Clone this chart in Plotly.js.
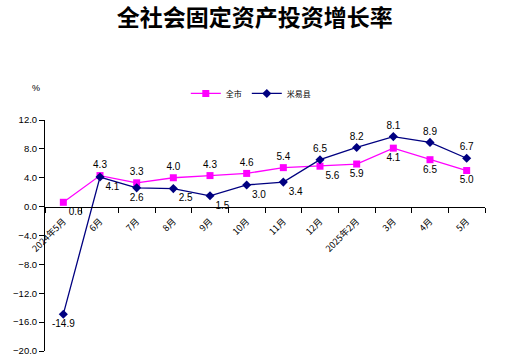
<!DOCTYPE html>
<html>
<head>
<meta charset="utf-8">
<script src="https://cdn.plot.ly/plotly-3.0.1.min.js"></script>
<style>html,body{margin:0;padding:0;background:#fff;}#chart{width:520px;height:364px;}</style>
</head>
<body>
<div id="chart"></div>
<script>
// Categories (x-axis tick labels)
const months = ["2024年5月","6月","7月","8月","9月","10月","11月","12月","2025年2月","3月","4月","5月"];
// Series values
const cityValues   = [0.6, 4.3, 3.3, 4.0, 4.3, 4.6, 5.4, 5.6, 5.9, 8.1, 6.5, 5.0];
const countyValues = [-14.9, 4.1, 2.6, 2.5, 1.5, 3.0, 3.4, 6.5, 8.2, 9.7, 8.9, 6.7];
// Data labels as printed on the original chart
const cityLabels   = ["0.6","4.3","3.3","4.0","4.3","4.6","5.4","5.6","5.9","4.1","6.5","5.0"];
const countyLabels = ["-14.9","4.1","2.6","2.5","1.5","3.0","3.4","6.5","8.2","8.1","8.9","6.7"];
// Series names
const seriesNames = ["全市","米易县"];

const cityPos = ["bottom right","top center","top center","top center","top center","top center","top center",
                 "bottom right","bottom center","bottom center","bottom center","bottom center"];
const countyPos = ["bottom center","bottom right","bottom center","bottom right","bottom right","bottom right","bottom right",
                   "top center","top center","top center","top center","top center"];

const labelFont = {family: "Liberation Sans, Arial, sans-serif", size: 10, color: "#000000"};

const traces = [
  {
    x: months, y: cityValues, name: seriesNames[0], type: "scatter", mode: "lines+markers+text",
    line: {color: "#FF00FF", width: 1.3},
    marker: {symbol: "square", size: 7, color: "#FF00FF"},
    text: cityLabels, textposition: cityPos, textfont: labelFont,
    cliponaxis: false, hoverinfo: "skip"
  },
  {
    x: months, y: countyValues, name: seriesNames[1], type: "scatter", mode: "lines+markers+text",
    line: {color: "#000080", width: 1.3},
    marker: {symbol: "diamond", size: 7, color: "#000080"},
    text: countyLabels, textposition: countyPos, textfont: labelFont,
    cliponaxis: false, hoverinfo: "skip"
  }
];

const layout = {
  width: 520, height: 364,
  margin: {l: 45, r: 35, t: 120, b: 13},
  paper_bgcolor: "#ffffff", plot_bgcolor: "#ffffff",
  title: {
    text: "<b>全社会固定资产投资增长率</b>",
    font: {family: "Noto Sans CJK SC, sans-serif", size: 23, color: "#000000"},
    x: 0.49, xanchor: "center", y: 0.95, yanchor: "middle"
  },
  showlegend: true,
  legend: {
    orientation: "h", x: 0.32, xanchor: "left", y: 1.115, yanchor: "middle",
    font: {family: "Noto Sans CJK SC, sans-serif", size: 8, color: "#000000"},
    itemwidth: 30, tracegroupgap: 0, bgcolor: "rgba(0,0,0,0)"
  },
  xaxis: {
    type: "category", range: [-0.5, 11.5],
    anchor: "free", position: 0.625,
    showline: true, linecolor: "#000000", linewidth: 1,
    ticks: "outside", ticklen: 5, tickcolor: "#000000", tickson: "boundaries",
    tickangle: -45, ticklabelstandoff: 5,
    tickfont: {family: "Noto Sans CJK SC, sans-serif", size: 9, color: "#000000"},
    showgrid: false, zeroline: false, fixedrange: true
  },
  yaxis: {
    range: [-20, 12], dtick: 4, tick0: 0, tickformat: ".1f",
    showline: true, linecolor: "#000000", linewidth: 1,
    ticks: "outside", ticklen: 5, tickcolor: "#000000",
    tickfont: {family: "Liberation Sans, Arial, sans-serif", size: 9.5, color: "#000000"},
    showgrid: false, zeroline: false, fixedrange: true
  },
  annotations: [
    {text: "%", xref: "paper", yref: "paper", x: -0.02, y: 1.14, xanchor: "center", yanchor: "middle",
     showarrow: false, font: {family: "Liberation Sans, Arial, sans-serif", size: 9, color: "#000000"}}
  ]
};

Plotly.newPlot("chart", traces, layout, {displayModeBar: false, staticPlot: true});
</script>
</body>
</html>
